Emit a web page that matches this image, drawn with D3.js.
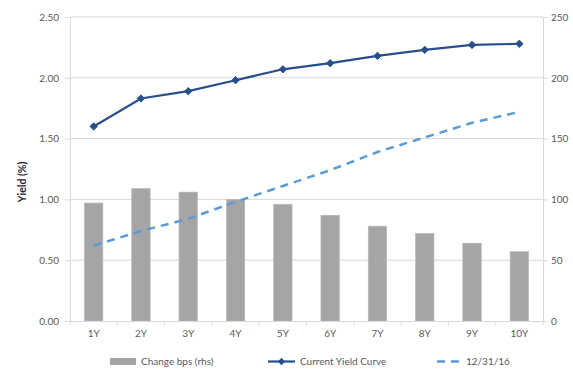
<!DOCTYPE html>
<html><head><meta charset="utf-8">
<script src="https://cdn.jsdelivr.net/npm/d3@7"></script>
<style>body{margin:0;background:#fff;} svg{display:block;font-family:Lato,"Open Sans",sans-serif;}</style>
</head><body>
<svg id="c" width="573" height="380"></svg>
<script>
const categories = ["1Y","2Y","3Y","4Y","5Y","6Y","7Y","8Y","9Y","10Y"];
const changeBps = [97,109,106,100,96,87,78,72,64,57];
const currentYield = [1.60,1.83,1.89,1.98,2.07,2.12,2.18,2.23,2.27,2.28];
const prevYield = [0.62,0.74,0.84,0.98,1.11,1.24,1.39,1.51,1.63,1.72];
const leftTicks = [0,0.5,1,1.5,2,2.5];
const rightTicks = [0,50,100,150,200,250];

const svg = d3.select("#c");
const L=70, R=543, T=17, B=321;
const x = d3.scaleBand().domain(categories).range([L,R]).paddingInner(0.61).paddingOuter(0.305);
const xc = d3.scalePoint().domain(categories).range([L,R]).padding(0.5);
const yL = d3.scaleLinear().domain([0,2.5]).range([B,T]);
const yR = d3.scaleLinear().domain([0,250]).range([B,T]);

// gridlines
svg.append("g").selectAll("line").data(leftTicks.slice(1)).join("line")
  .attr("x1",L).attr("x2",R).attr("y1",d=>yL(d)).attr("y2",d=>yL(d))
  .attr("stroke","#d9d9d9").attr("stroke-width",1);

// bars
svg.append("g").selectAll("rect").data(changeBps).join("rect")
  .attr("x",(d,i)=>x(categories[i])).attr("width",x.bandwidth())
  .attr("y",d=>yR(d)).attr("height",d=>B-yR(d))
  .attr("fill","#a5a5a5").attr("stroke","#b8b8b8").attr("stroke-width",0.6);

// axes
const axL = d3.axisLeft(yL).tickValues(leftTicks).tickFormat(d3.format(".2f")).tickSize(5).tickPadding(6);
const gL = svg.append("g").attr("transform",`translate(${L},0)`).call(axL);
const axR = d3.axisRight(yR).tickValues(rightTicks).tickFormat(d3.format("d")).tickSize(5).tickPadding(3);
const gR = svg.append("g").attr("transform",`translate(${R},0)`).call(axR);
const bandEdges = categories.map(c=>x(c)-x.step()*x.paddingInner()/2).concat([R]);
const axB = d3.axisBottom(x).tickSize(0).tickPadding(9);
const gB = svg.append("g").attr("transform",`translate(0,${B})`).call(axB);
gB.selectAll(".tickmark").data(bandEdges).join("line").attr("class","tickmark")
  .attr("x1",d=>d).attr("x2",d=>d).attr("y1",0).attr("y2",4).attr("stroke","#d9d9d9");
[gL,gR,gB].forEach(g=>{
  g.select(".domain").attr("stroke","#d9d9d9");
  g.selectAll(".tick line").attr("stroke","#d9d9d9");
  g.selectAll("text").attr("fill","#595959").style("font-size","10px").style("font-family","Lato,'Open Sans',sans-serif");
});
gB.select(".domain").attr("d",`M${L},0.5H${R}`);

// previous yield dashed
const line = d3.line().x((d,i)=>xc(categories[i])).y(d=>yL(d));
svg.append("path").datum(prevYield).attr("d",line).attr("fill","none")
  .attr("stroke","#5b9bd5").attr("stroke-width",2.5).attr("stroke-dasharray","8,6");

// current yield
svg.append("path").datum(currentYield).attr("d",line).attr("fill","none")
  .attr("stroke","#264f8c").attr("stroke-width",2.2);
const diamond = d3.symbol().type(d3.symbolDiamond2).size(34);
svg.append("g").selectAll("path").data(currentYield).join("path")
  .attr("d",diamond).attr("transform",(d,i)=>`translate(${xc(categories[i])},${yL(d)})`)
  .attr("fill","#264f8c").attr("stroke","#264f8c").attr("stroke-width",1);

// y title
svg.append("text").attr("transform","translate(26,182) rotate(-90)").attr("text-anchor","middle")
  .style("font-size","10.5px").style("font-weight","bold").attr("fill","#262626").text("Yield (%)");

// legend
const lg = svg.append("g").style("font-size","10px").attr("fill","#595959");
lg.append("rect").attr("x",110).attr("y",358).attr("width",26).attr("height",7).attr("fill","#a5a5a5");
lg.append("text").attr("x",141).attr("y",365).text("Change bps (rhs)");
lg.append("line").attr("x1",268).attr("x2",295).attr("y1",361.5).attr("y2",361.5).attr("stroke","#264f8c").attr("stroke-width",2.2);
lg.append("path").attr("d",diamond).attr("transform","translate(281.5,361.5)").attr("fill","#264f8c");
lg.append("text").attr("x",300).attr("y",365).text("Current Yield Curve");
lg.append("line").attr("x1",437).attr("x2",460).attr("y1",361.5).attr("y2",361.5).attr("stroke","#5b9bd5").attr("stroke-width",2.5).attr("stroke-dasharray","8,6");
lg.append("text").attr("x",466).attr("y",365).text("12/31/16");
</script>
</body></html>
